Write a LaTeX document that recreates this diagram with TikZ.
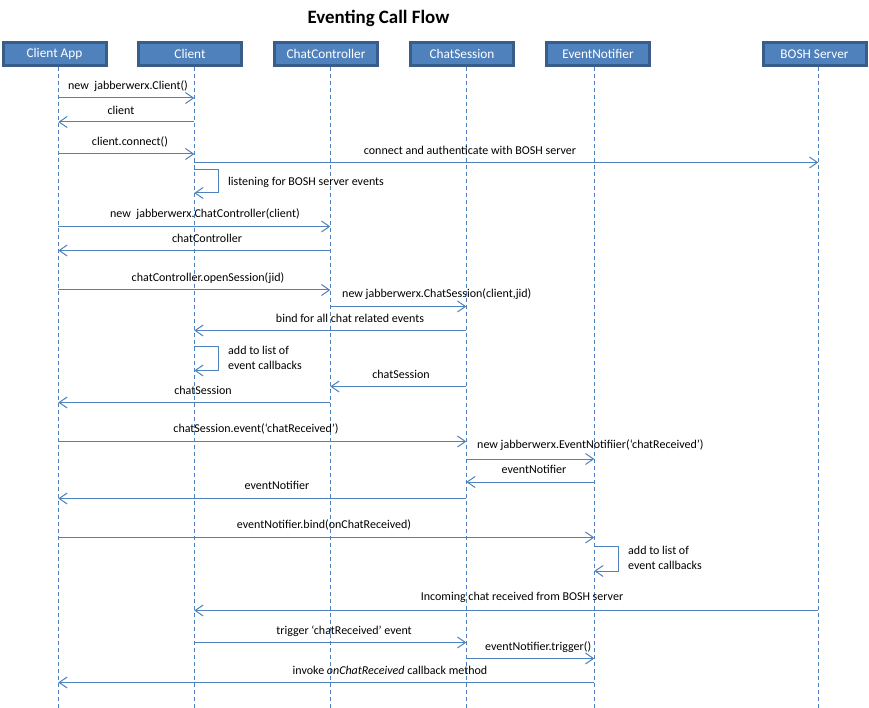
\documentclass[tikz,border=0pt]{standalone}
\usepackage{fontspec}
\setmainfont{Carlito}
\usetikzlibrary{arrows.meta}
\definecolor{boxfill}{HTML}{4F81BD}
\definecolor{boxline}{HTML}{385D8A}
\definecolor{linec}{HTML}{4F81BD}
\begin{document}
\begin{tikzpicture}[x=1pt,y=-1pt,
  actor/.style={draw=boxline,fill=boxfill,line width=3pt,minimum width=103pt,minimum height=23pt,inner sep=0pt,text=white,font=\fontsize{13.3}{15}\selectfont},
  life/.style={draw=linec,line width=1pt,dash pattern=on 4pt off 3pt},
  msg/.style={draw=linec,line width=1pt,-{Straight Barb[length=8pt,width=11pt,line width=1pt]}},
  lbl/.style={inner sep=0pt,font=\fontsize{12}{15}\selectfont,text=black},
  lbll/.style={lbl,anchor=west,align=left}]
\useasboundingbox (0,0) rectangle (869,708);
\node[font=\bfseries\fontsize{18.9}{22}\selectfont] (title) at (378.5,18) {Eventing Call Flow};
% actors
\node[actor] (ca) at (54.5,54) {Client App};
\node[actor] (cl) at (190,54) {Client};
\node[actor] (cc) at (326,54) {ChatController};
\node[actor] (cs) at (462,54) {ChatSession};
\node[actor] (en) at (598,54) {EventNotifier};
\node[actor] (bs) at (814.5,54) {BOSH Server};
% lifelines
\coordinate (A) at (58.3,67);
\coordinate (B) at (194.3,67);
\coordinate (C) at (330.3,67);
\coordinate (D) at (466.3,67);
\coordinate (E) at (594.3,67);
\coordinate (F) at (818.3,67);
\foreach \p in {A,B,C,D,E,F} \draw[life] (\p) -- (\p |- 0,708);
\newcommand\mymsg[3]{\draw[msg] (#1 |- 0,#3) -- (#2 |- 0,#3);}
\newcommand\myloop[3]{\draw[msg] (#1 |- 0,#2) -- ++(24,0) -- ++(0,#3-#2) -- (#1 |- 0,#3);}
% messages
\mymsg{A}{B}{98}
\node[lbl] (m1) at (128,86) {new\ \ jabberwerx.Client()};
\mymsg{B}{A}{122}
\node[lbl] (m2) at (121,110) {client};
\mymsg{A}{B}{154}
\node[lbl] (m3) at (130,142) {client.connect()};
\mymsg{B}{F}{162.5}
\node[lbl] (m4) at (470,150) {connect and authenticate with BOSH server};
\myloop{B}{170}{193}
\node[lbll] (m5) at (228,182) {listening for BOSH server events};
\mymsg{A}{C}{226.5}
\node[lbl] (m6) at (205,214) {new\ \ jabberwerx.ChatController(client)};
\mymsg{C}{A}{250.5}
\node[lbl] (m7) at (207,238) {chatController};
\mymsg{A}{C}{290}
\node[lbl] (m8) at (208,278) {chatController.openSession(jid)};
\mymsg{C}{D}{306.5}
\node[lbll] (m9) at (342,294) {new jabberwerx.ChatSession(client,jid)};
\mymsg{D}{B}{330.5}
\node[lbl] (m10) at (350,318) {bind for all chat related events};
\myloop{B}{346.5}{370.5}
\node[lbll] (m11) at (228,357.5) {add to list of\\event callbacks};
\mymsg{D}{C}{386.5}
\node[lbl] (m12) at (401,374) {chatSession};
\mymsg{C}{A}{402.5}
\node[lbl] (m13) at (203,390) {chatSession};
\mymsg{A}{D}{441.5}
\node[lbl] (m14) at (256,429) {chatSession.event(‘chatReceived’)};
\mymsg{D}{E}{459}
\node[lbll] (m15) at (477,445) {new jabberwerx.EventNotifiier(‘chatReceived’)};
\mymsg{E}{D}{482}
\node[lbl] (m16) at (534,469) {eventNotifier};
\mymsg{D}{A}{498.5}
\node[lbl] (m17) at (277,485) {eventNotifier};
\mymsg{A}{E}{537.5}
\node[lbl] (m18) at (324,525) {eventNotifier.bind(onChatReceived)};
\myloop{E}{546.5}{571}
\node[lbll] (m19) at (628,557.5) {add to list of\\event callbacks};
\mymsg{F}{B}{610.5}
\node[lbl] (m20) at (522,597) {Incoming chat received from BOSH server};
\mymsg{B}{D}{642.5}
\node[lbl] (m21) at (344,631) {trigger ‘chatReceived’ event};
\mymsg{D}{E}{658.5}
\node[lbll] (m22) at (485,647) {eventNotifier.trigger()};
\mymsg{E}{A}{682.5}
\node[lbl] (m23) at (390,670) {invoke \textit{onChatReceived} callback method};
\end{tikzpicture}
\end{document}
